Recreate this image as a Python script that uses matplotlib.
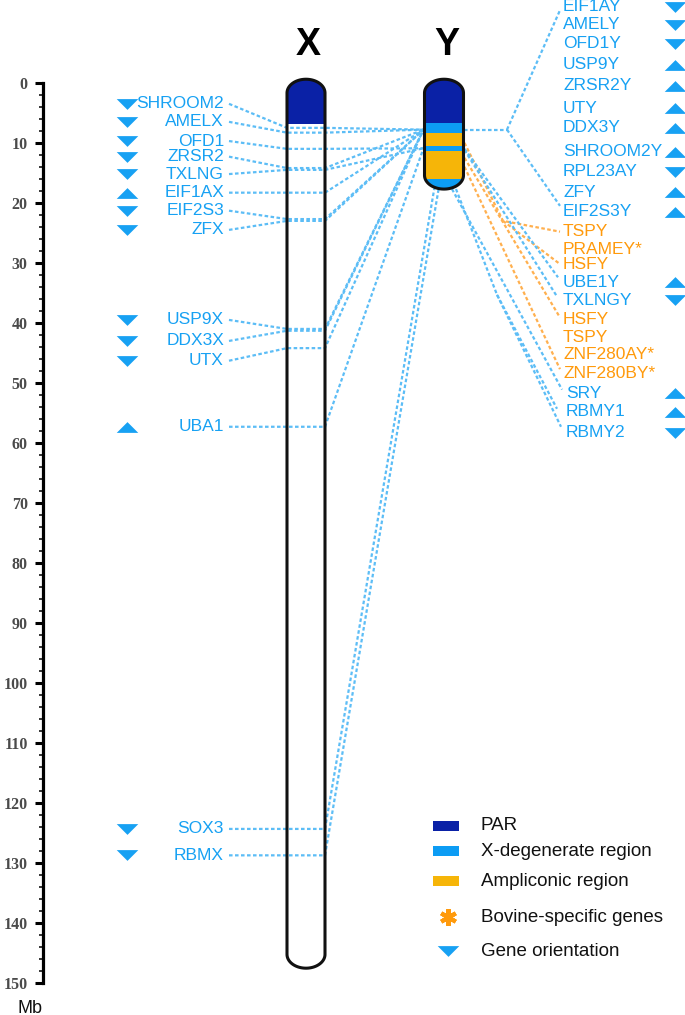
import matplotlib
matplotlib.use("Agg")
import matplotlib.pyplot as plt
from matplotlib.patches import PathPatch, Rectangle
from matplotlib.path import Path
import numpy as np

plt.rcParams["font.family"] = ["Liberation Sans", "DejaVu Sans"]

# ---- data (positions in Mb) ----
x_genes = ["SHROOM2", "AMELX", "OFD1", "ZRSR2", "TXLNG", "EIF1AX", "EIF2S3", "ZFX",
           "USP9X", "DDX3X", "UTX", "UBA1", "SOX3", "RBMX"]
x_label_mb = [3.5, 6.5, 9.7, 12.3, 15.2, 18.3, 21.3, 24.5, 39.5, 43.0, 46.3, 57.3, 124.3, 128.7]
x_pos_mb = [7.5, 8.3, 11.0, 14.2, 14.5, 18.3, 22.7, 23.0, 41.0, 41.3, 44.2, 57.3, 124.3, 128.7]
x_strand = ["-", "-", "-", "-", "-", "+", "-", "-", "-", "-", "-", "+", "-", "-"]
x_target_on_y = [7.8, 7.8, 10.9, 7.8, 10.9, 7.8, 7.8, 7.8, 7.8, 7.8, 7.8, 10.9, 17.6, 17.6]

y_genes = ["EIF1AY", "AMELY", "OFD1Y", "USP9Y", "ZRSR2Y", "UTY", "DDX3Y", "SHROOM2Y",
           "RPL23AY", "ZFY", "EIF2S3Y", "TSPY", "PRAMEY*", "HSFY", "UBE1Y", "TXLNGY",
           "HSFY", "TSPY", "ZNF280AY*", "ZNF280BY*", "SRY", "RBMY1", "RBMY2"]
y_label_mb = [-12.7, -9.7, -6.5, -3.0, 0.5, 4.2, 7.5, 11.5, 14.8, 18.2, 21.5, 24.8,
              27.7, 30.2, 33.2, 36.2, 39.5, 42.5, 45.3, 48.5, 51.7, 54.8, 58.3]
y_region = ["X"] * 11 + ["A", "A", "A", "X", "X", "A", "A", "A", "A", "X", "X", "X"]
y_strand = ["-", "-", "-", "+", "+", "+", "+", "+", "-", "+", "+", None, None, None,
            "+", "-", None, None, None, None, "+", "+", "-"]
y_src_mb = [7.8] * 11 + [10.0, None, 10.0, 11.0, 11.2, 12.5, None, None, 14.0, 17.7, 17.7, 17.7]

x_chrom_len = 147.5
x_bands = [(-0.6, 6.9, "PAR")]
y_chrom_len = 17.7
y_bands = [(-0.6, 6.7, "PAR"), (6.7, 8.3, "XDEG"), (8.3, 10.5, "AMPL"),
           (10.5, 11.3, "XDEG"), (11.3, 16.05, "AMPL"), (16.05, 18.0, "XDEG")]

legend_labels = ["PAR", "X-degenerate region", "Ampliconic region",
                 "Bovine-specific genes", "Gene orientation"]

# ---- style ----
band_colors = {"PAR": "#0a21a6", "XDEG": "#0c9cf4", "AMPL": "#f6b508"}
BLUE_TXT = "#17a1f3"
ORANGE_TXT = "#ff9a0c"
LINE_BLUE = "#5cbdf6"
LINE_ORANGE = "#ffb04f"
DASH = (0, (1.6, 1.1))
TRI_DOWN = [(-1, 0.5), (1, 0.5), (0, -0.5), (-1, 0.5)]
TRI_UP = [(-1, -0.5), (1, -0.5), (0, 0.5), (-1, -0.5)]
TRI_MS = 15.5

X_CX, X_W = 306, 38
Y_CX, Y_W = 444, 39
CAP = 2.3

fig = plt.figure(figsize=(6.85, 10.15), dpi=100)
ax = fig.add_axes([43 / 685, 0, 642 / 685, 1])
ax.set_xlim(43, 685)
ax.set_ylim(155.3, -13.8)

# axis
for s in ["top", "right", "bottom"]:
    ax.spines[s].set_visible(False)
ax.spines["left"].set_bounds(0, 150)
ax.spines["left"].set_linewidth(2.3)
ax.set_xticks([])
ax.set_yticks(np.arange(0, 151, 10))
ax.set_yticks(np.arange(0, 151, 2), minor=True)
ax.tick_params(axis="y", which="major", length=6, width=2.2, pad=5)
ax.tick_params(axis="y", which="minor", length=3, width=1.1)
for lab in ax.get_yticklabels():
    lab.set_fontfamily("Liberation Serif")
    lab.set_fontweight("bold")
    lab.set_fontsize(11.5)
    lab.set_color("#4a4a4a")
ax.text(30, 154.2, "Mb", ha="center", va="center", fontsize=13, color="#111")


def outline(cx, w, top, bot):
    t = np.linspace(0, np.pi, 40)
    xs = np.concatenate([cx + w / 2 * np.cos(t), cx - w / 2 * np.cos(t)])
    ys = np.concatenate([top + CAP - CAP * np.sin(t), bot - CAP + CAP * np.sin(t)])
    verts = list(zip(xs, ys)) + [(xs[0], ys[0])]
    return Path(verts, closed=True)


def chromosome(cx, w, length, bands):
    p = outline(cx, w, -0.6, length)
    fill = PathPatch(p, facecolor="white", edgecolor="none", zorder=2)
    ax.add_patch(fill)
    for b0, b1, kind in bands:
        r = Rectangle((cx - w, b0), 2 * w, b1 - b0, facecolor=band_colors[kind],
                      edgecolor="none", zorder=2.5)
        ax.add_patch(r)
        r.set_clip_path(fill)
    ax.add_patch(PathPatch(p, facecolor="none", edgecolor="#111", lw=2.2, zorder=5))


chromosome(X_CX, X_W, x_chrom_len, x_bands)
chromosome(Y_CX, Y_W, y_chrom_len, y_bands)
ax.text(X_CX + 2, -6.3, "X", ha="center", va="center", fontsize=27, fontweight="bold")
ax.text(Y_CX + 3, -6.3, "Y", ha="center", va="center", fontsize=27, fontweight="bold")


def dline(xs, ys, color=LINE_BLUE):
    ax.plot(xs, ys, ls=DASH, lw=1.6, color=color, zorder=3)


def tri(x, y, strand):
    ax.plot(x, y, marker=TRI_DOWN if strand == "-" else TRI_UP, ms=TRI_MS,
            color=BLUE_TXT, mew=0, ls="none")


# X genes
xl, xr = X_CX - X_W / 2, X_CX + X_W / 2
yl = Y_CX - Y_W / 2
for name, lm, pm, st, tg in zip(x_genes, x_label_mb, x_pos_mb, x_strand, x_target_on_y):
    ax.text(224, lm, name, ha="right", va="center", fontsize=12.5, color=BLUE_TXT)
    tri(127, lm, st)
    tx = yl - 1 if tg < 17 else Y_CX - 10 + (pm - 124) * 1.0
    dline([229, xl, xr, tx], [lm, pm, pm, tg])

# Y genes
yr = Y_CX + Y_W / 2
for name, lm, reg, st in zip(y_genes, y_label_mb, y_region, y_strand):
    col = BLUE_TXT if reg == "X" else ORANGE_TXT
    x0 = 566 if name in ("SRY", "RBMY1", "RBMY2") else 563
    ax.text(x0, lm, name, ha="left", va="center", fontsize=12.5, color=col)
    if st is not None:
        tri(675, lm, st)

# X-degenerate fan on the right
hub = 507
dline([yr, hub], [y_src_mb[0], y_src_mb[0]])
dline([hub, 560], [y_src_mb[0], y_label_mb[0] + 0.6])
dline([hub, 560], [y_src_mb[0], y_label_mb[10] - 1.0])

# ampliconic fan (TSPY / HSFY)
dline([yr + 1, 503, 560], [y_src_mb[11], 23.0, y_label_mb[11]], LINE_ORANGE)
dline([503, 560], [23.0, y_label_mb[13]], LINE_ORANGE)
# other ampliconic
dline([yr + 1, 560], [y_src_mb[16], y_label_mb[16] - 0.4], LINE_ORANGE)
dline([yr + 1, 560], [y_src_mb[19], y_label_mb[19] - 0.8], LINE_ORANGE)
# UBE1Y / TXLNGY
dline([yr + 1, 558], [y_src_mb[14], y_label_mb[14] - 0.8])
dline([yr + 1, 557], [y_src_mb[15], y_label_mb[15] - 0.6])
# SRY / RBMY
dline([Y_CX + 8, 562], [y_src_mb[20], y_label_mb[20] - 0.6])
dline([Y_CX + 12, 497, 557], [y_src_mb[21], 35.3, y_label_mb[21] - 0.5])
dline([497, 561], [35.3, y_label_mb[22] - 1.0])

# legend
leg_y = [123.8, 128.0, 133.0, 139.0, 144.7]
for i, kind in enumerate(["PAR", "XDEG", "AMPL"]):
    ax.add_patch(Rectangle((433, leg_y[i] - 0.8), 26, 1.6, facecolor=band_colors[kind],
                           edgecolor="none"))
ax.plot(448, leg_y[3], marker=(6, 2, 0), ms=12, mew=3, color="#ff9a0c", ls="none")
ax.plot(448, leg_y[4], marker=TRI_DOWN, ms=TRI_MS, mew=0, color=BLUE_TXT, ls="none")
for i, lab in enumerate(legend_labels):
    ax.text(481, leg_y[i], lab, ha="left", va="center", fontsize=13.5, color="#111")

fig.savefig("out.png", dpi=100)
